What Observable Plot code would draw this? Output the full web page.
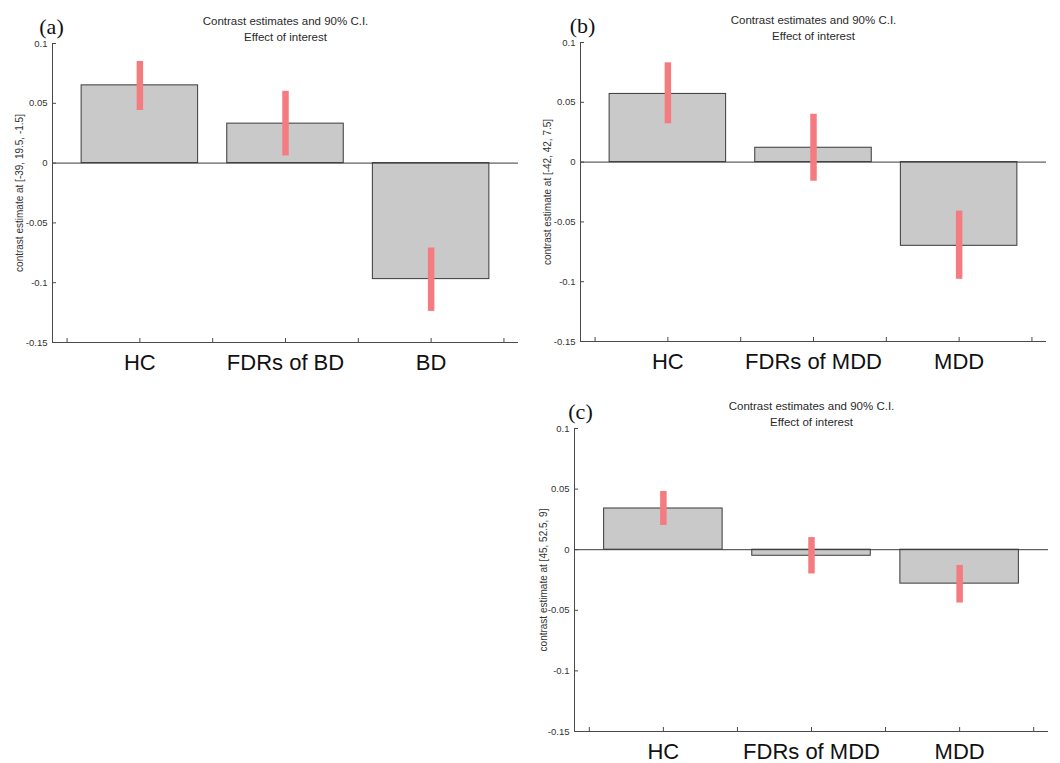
<!DOCTYPE html>
<html>
<head>
<meta charset="utf-8">
<script src="https://cdn.jsdelivr.net/npm/d3@7"></script>
<script src="https://cdn.jsdelivr.net/npm/@observablehq/plot@0.6"></script>
<style>
  html, body { margin: 0; padding: 0; background: #fff; }
  #root { position: relative; width: 1060px; height: 763px; overflow: hidden; background: #fff; }
  .panel { position: absolute; }
  .panel svg { display: block; overflow: visible; }
</style>
</head>
<body>
<div id="root">
  <div class="panel" id="pa" style="left:0px; top:0px;"></div>
  <div class="panel" id="pb" style="left:530px; top:0px;"></div>
  <div class="panel" id="pc" style="left:530px; top:385px;"></div>
</div>
<script>
// ---- data ----
const categoriesA = ["HC", "FDRs of BD", "BD"];
const categoriesBC = ["HC", "FDRs of MDD", "MDD"];

const estimatesA = [0.065, 0.033, -0.097];
const ciLowA = [0.044, 0.006, -0.124];
const ciHighA = [0.085, 0.060, -0.071];

const estimatesB = [0.057, 0.012, -0.070];
const ciLowB = [0.032, -0.016, -0.098];
const ciHighB = [0.083, 0.040, -0.041];

const estimatesC = [0.034, -0.005, -0.028];
const ciLowC = [0.020, -0.020, -0.044];
const ciHighC = [0.048, 0.010, -0.013];

const yTicks = [-0.15, -0.1, -0.05, 0, 0.05, 0.1];
const xTicks = [0.5, 1, 1.5, 2, 2.5, 3, 3.5];
const titleLines = ["Contrast estimates and 90% C.I.", "Effect of interest"];
const yLabelA = "contrast estimate at [-39, 19.5, -1.5]";
const yLabelB = "contrast estimate at [-42, 42, 7.5]";
const yLabelC = "contrast estimate at [45, 52.5, 9]";

// ---- drawing ----
const SANS = "'Liberation Sans', Arial, sans-serif";
const SERIF = "'Liberation Serif', 'Times New Roman', serif";
const AX = "#4a4a4a";

function panel({cats, est, lo, hi, ylabel, letter, width, height, ml, mr, mt, mb, letterDx, ylabelX}) {
  const data = cats.map((c, i) => ({pos: i + 1, cat: c, est: est[i], lo: lo[i], hi: hi[i]}));
  return Plot.plot({
    width, height,
    marginLeft: ml, marginRight: mr, marginTop: mt, marginBottom: mb,
    style: {fontFamily: SANS, background: "white", overflow: "visible"},
    x: {domain: [0.4, 3.6], axis: null, label: null},
    y: {domain: [-0.15, 0.1], axis: null, label: null},
    marks: [
      Plot.rectY(data, {x1: d => d.pos - 0.4, x2: d => d.pos + 0.4, y1: 0, y2: "est",
        fill: "#c9c9c9", stroke: "#3a3a3a", strokeWidth: 1}),
      Plot.ruleY([0], {stroke: "#3a3a3a", strokeWidth: 1}),
      Plot.ruleX(data, {x: "pos", y1: "lo", y2: "hi", stroke: "#f47b80", strokeWidth: 6.5}),
      // axis lines (left and bottom)
      Plot.ruleX([0.4], {stroke: AX, strokeWidth: 1}),
      Plot.ruleY([-0.15], {stroke: AX, strokeWidth: 1}),
      // inward x ticks
      Plot.axisX(xTicks, {tickSize: -4, tickFormat: () => "", stroke: AX, label: null}),
      // category labels
      Plot.axisX([1, 2, 3], {tickSize: 0, tickPadding: 12, tickFormat: v => cats[v - 1],
        fontSize: 22, fill: "#111", fontFamily: SANS, label: null}),
      // y ticks & labels
      Plot.axisY(yTicks, {tickSize: -4, tickPadding: 9, stroke: AX, label: null,
        tickFormat: v => String(+v.toFixed(2)), fontSize: 9.5, fill: "#333", fontFamily: SANS}),
      // y label
      Plot.text([ylabel], {frameAnchor: "left", textAnchor: "middle", dx: -(ml - ylabelX), rotate: -90,
        fontSize: 10, fill: "#333", fontFamily: SANS}),
      // titles
      Plot.text([titleLines[0]], {frameAnchor: "top", dy: -27, fontSize: 11.5, fill: "#2a2a2a", fontFamily: SANS}),
      Plot.text([titleLines[1]], {frameAnchor: "top", dy: -11, fontSize: 11.5, fill: "#2a2a2a", fontFamily: SANS}),
      // panel letter
      Plot.text([letter], {frameAnchor: "top-left", dx: letterDx, dy: -25, textAnchor: "middle",
        fontSize: 22, fill: "#111", fontFamily: SERIF})
    ]
  });
}

document.getElementById("pa").append(panel({
  cats: categoriesA, est: estimatesA, lo: ciLowA, hi: ciHighA, ylabel: yLabelA, letter: "(a)",
  width: 530, height: 385, ml: 52, mr: 12, mt: 43, mb: 43, letterDx: -1, ylabelX: 19
}));
document.getElementById("pb").append(panel({
  cats: categoriesBC, est: estimatesB, lo: ciLowB, hi: ciHighB, ylabel: yLabelB, letter: "(b)",
  width: 530, height: 385, ml: 50, mr: 14, mt: 42, mb: 44, letterDx: 2, ylabelX: 17
}));
document.getElementById("pc").append(panel({
  cats: categoriesBC, est: estimatesC, lo: ciLowC, hi: ciHighC, ylabel: yLabelC, letter: "(c)",
  width: 530, height: 378, ml: 44, mr: 12, mt: 43, mb: 32, letterDx: 6, ylabelX: 13
}));
</script>
</body>
</html>
